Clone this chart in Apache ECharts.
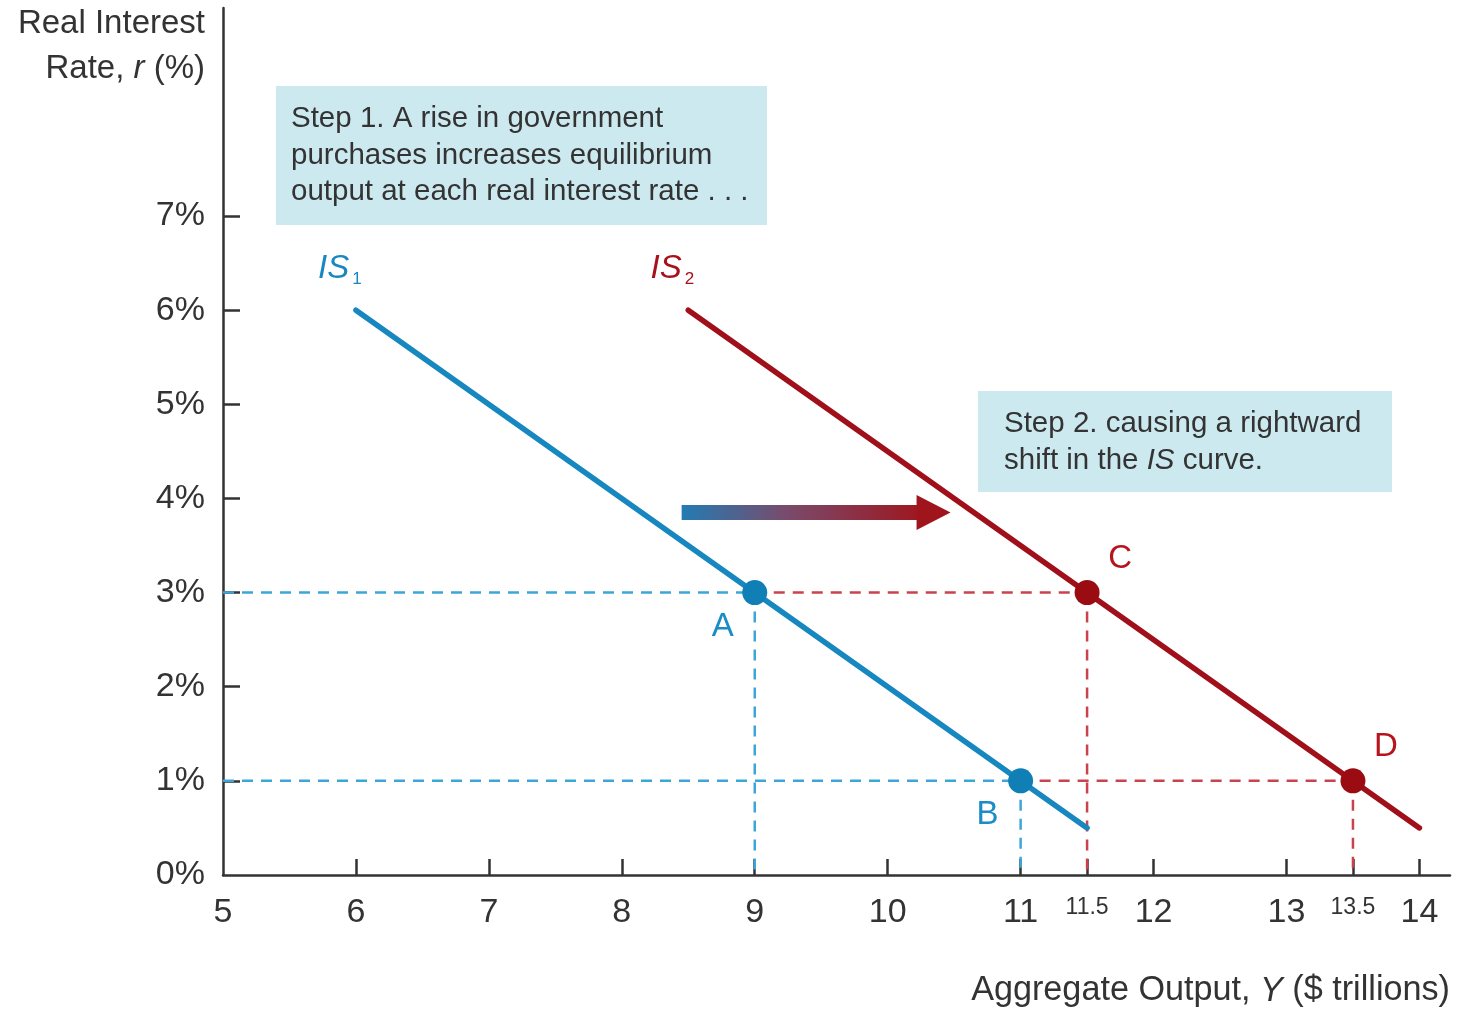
<!DOCTYPE html>
<html>
<head>
<meta charset="utf-8">
<script src="https://cdn.jsdelivr.net/npm/echarts@6/dist/echarts.min.js"></script>
<style>
html,body{margin:0;padding:0;background:#fff;}
#chart{width:1458px;height:1009px;}
</style>
</head>
<body>
<div id="chart"></div>
<script>
// ---- data ----
const is1X = [6, 11.5];
const is1Y = [6, 0.5];
const is2X = [8.5, 14];
const is2Y = [6, 0.5];
const pointNames = ['A', 'B', 'C', 'D'];
const pointX = [9, 11, 11.5, 13.5];
const pointY = [3, 1, 3, 1];
const pointCurve = [1, 1, 2, 2];
const arrowX = [8.45, 10.25];
const arrowHeadX = 10.345;
const arrowY = 3.85;
const xTicks = [6, 7, 8, 9, 10, 11, 11.5, 12, 13, 13.5, 14];
const xLabels = [5, 6, 7, 8, 9, 10, 11, 11.5, 12, 13, 13.5, 14];
const yTicks = [1, 2, 3, 4, 5, 6, 7];
const yLabels = [0, 1, 2, 3, 4, 5, 6, 7];

const BLUE = '#1787c0';
const RED = '#a0101a';
const BLUE_D = '#3ea6d6';
const RED_D = '#c9434d';
const TXT = '#333333';
const FONT = '"Liberation Sans", Arial, sans-serif';

const chart = echarts.init(document.getElementById('chart'));

const series = [];
// dashed guides
function guide(data, color) {
  series.push({
    type: 'line', data: data, symbol: 'none', silent: true, z: 1,
    lineStyle: { color: color, width: 2.5, type: [11, 8] }
  });
}
for (let i = 0; i < pointX.length; i++) {
  const c = pointCurve[i] === 1 ? BLUE_D : RED_D;
  guide([[pointX[i], pointY[i]], [pointX[i], 0]], c);
  if (pointCurve[i] === 1) guide([[5, pointY[i]], [pointX[i], pointY[i]]], BLUE_D);
}
// red horizontals from A to C and B to D
guide([[pointX[0], pointY[0]], [pointX[2], pointY[2]]], RED_D);
guide([[pointX[1], pointY[1]], [pointX[3], pointY[3]]], RED_D);

// IS curves
series.push({
  type: 'line', symbol: 'none', z: 3,
  lineStyle: { color: BLUE, width: 5.5, cap: 'round' },
  data: [[is1X[0], is1Y[0]], [is1X[1], is1Y[1]]]
});
series.push({
  type: 'line', symbol: 'none', z: 3,
  lineStyle: { color: RED, width: 5.5, cap: 'round' },
  data: [[is2X[0], is2Y[0]], [is2X[1], is2Y[1]]]
});
// IS labels attached to curve start points
function isLabel(sub, color) {
  return {
    show: true, position: 'inside', offset: [-16, -41],
    formatter: '{i|IS}{s|' + sub + '}',
    rich: {
      i: { fontFamily: FONT, fontStyle: 'italic', fontSize: 33, color: color, lineHeight: 36 },
      s: { fontFamily: FONT, fontSize: 17, color: color, padding: [20, 0, 0, 3], lineHeight: 36 }
    }
  };
}
series.push({
  type: 'scatter', z: 6, symbolSize: 0, silent: true,
  itemStyle: { opacity: 1 },
  data: [
    { value: [is1X[0], is1Y[0]], label: isLabel('1', '#1787c0') },
    { value: [is2X[0], is2Y[0]], label: isLabel('2', '#a8101b') }
  ]
});

// points
const offs = { A: [-32, 34], B: [-33, 34], C: [33, -34], D: [33, -34] };
series.push({
  type: 'scatter', z: 5, symbolSize: 25,
  data: pointX.map((x, i) => ({
    value: [x, pointY[i]],
    itemStyle: { color: pointCurve[i] === 1 ? '#0f7fb6' : '#9a0c12', opacity: 1 },
    label: {
      show: true, position: 'inside', offset: offs[pointNames[i]],
      formatter: pointNames[i], fontFamily: FONT, fontSize: 33,
      color: pointCurve[i] === 1 ? '#1a8cc6' : '#b8141e'
    }
  }))
});

// arrow
series.push({
  type: 'line', symbol: 'none', z: 4, silent: true,
  lineStyle: {
    width: 15,
    color: new echarts.graphic.LinearGradient(0, 0, 1, 0, [
      { offset: 0, color: '#1d7fb8' },
      { offset: 0.45, color: '#7a4a6a' },
      { offset: 1, color: '#a0141c' }
    ])
  },
  data: [[arrowX[0], arrowY], [arrowX[1], arrowY]]
});
series.push({
  type: 'scatter', z: 4, silent: true,
  symbol: 'path://M0,0 L10,5 L0,10 Z', symbolSize: [34, 35],
  itemStyle: { color: '#a0141c', opacity: 1 },
  data: [[arrowHeadX, arrowY]]
});

const option = {
  animation: false,
  backgroundColor: '#ffffff',
  grid: { left: 223, right: 8, top: 8, bottom: 134, containLabel: false },
  xAxis: {
    type: 'value', min: 5, max: 14.23,
    axisLine: { lineStyle: { color: TXT, width: 2.5 } },
    axisTick: { show: true, inside: true, length: 16, customValues: xTicks, lineStyle: { color: TXT, width: 2.5 } },
    axisLabel: {
      customValues: xLabels, margin: 21, color: TXT, fontFamily: FONT, fontSize: 34,
      formatter: v => (v % 1 !== 0 ? '{s|' + v + '}' : '' + v),
      rich: { s: { fontFamily: FONT, fontSize: 23, color: TXT, padding: [0, 0, 6, 0] } }
    },
    splitLine: { show: false }
  },
  yAxis: {
    type: 'value', min: 0, max: 9.21,
    axisLine: { lineStyle: { color: TXT, width: 2.5 } },
    axisTick: { show: true, inside: true, length: 17, customValues: yTicks, lineStyle: { color: TXT, width: 2.5 } },
    axisLabel: {
      customValues: yLabels, margin: 18, color: TXT, fontFamily: FONT, fontSize: 34,
      formatter: v => v + '%'
    },
    splitLine: { show: false }
  },
  graphic: [
    {
      type: 'text', x: 205, y: 24, z: 10,
      style: {
        text: 'Real Interest', fontFamily: FONT, fontSize: 33, fill: TXT,
        align: 'right', verticalAlign: 'middle'
      }
    },
    {
      type: 'text', x: 205, y: 69, z: 10,
      style: {
        text: 'Rate, {i|r} (%)', fontFamily: FONT, fontSize: 33, fill: TXT,
        align: 'right', verticalAlign: 'middle',
        rich: { i: { fontFamily: FONT, fontSize: 33, fontStyle: 'italic', color: TXT } }
      }
    },
    {
      type: 'text', x: 1450, y: 991, z: 10,
      style: {
        text: 'Aggregate Output, {i|Y} ($ trillions)',
        fontFamily: FONT, fontSize: 34.2, fill: TXT, align: 'right', verticalAlign: 'middle',
        rich: { i: { fontFamily: FONT, fontSize: 34.2, fontStyle: 'italic', color: TXT } }
      }
    },
    {
      type: 'rect', left: 276, top: 86, z: 2,
      shape: { width: 491, height: 139 },
      style: { fill: '#cde9f0' }
    },
    {
      type: 'text', x: 291, y: 101, z: 10,
      style: {
        text: 'Step 1. A rise in government\npurchases increases equilibrium\noutput at each real interest rate . . .',
        fontFamily: FONT, fontSize: 29.5, fill: TXT, lineHeight: 36.3
      }
    },
    {
      type: 'rect', left: 978, top: 391, z: 2,
      shape: { width: 414, height: 101 },
      style: { fill: '#cde9f0' }
    },
    {
      type: 'text', x: 1004, y: 406, z: 10,
      style: {
        text: 'Step 2. causing a rightward\nshift in the {i|IS} curve.',
        fontFamily: FONT, fontSize: 29.5, fill: TXT, lineHeight: 36.3,
        rich: { i: { fontFamily: FONT, fontSize: 29.5, fontStyle: 'italic', color: TXT, lineHeight: 36.3 } }
      }
    }
  ],
  series: series
};
chart.setOption(option);
</script>
</body>
</html>
